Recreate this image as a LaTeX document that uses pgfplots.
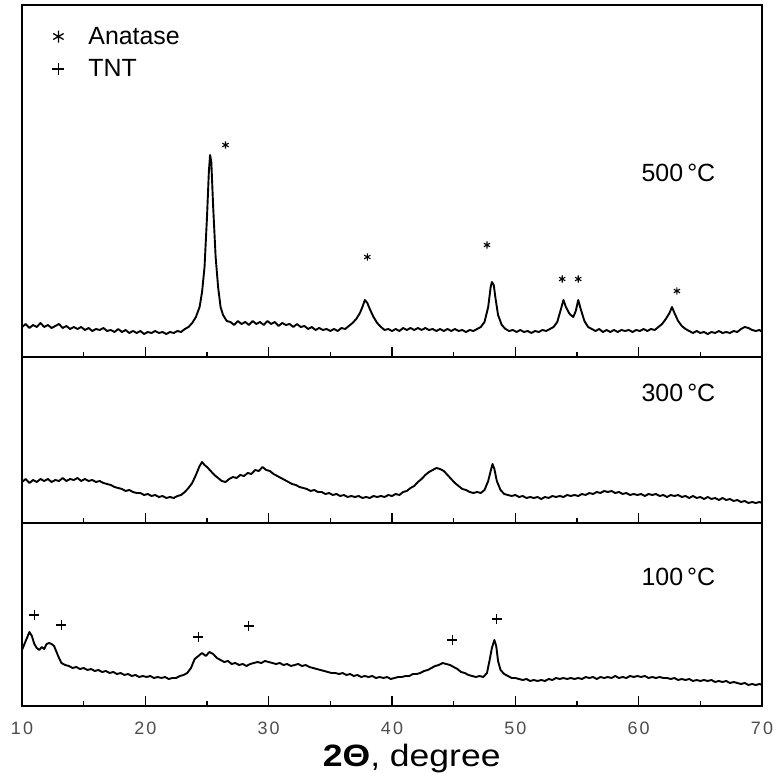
\documentclass[border=0pt]{standalone}
\usepackage{fontspec}
\setmainfont{Liberation Sans}
\newfontfamily\tickfont[LetterSpace=12]{Liberation Sans}
\usepackage{pgfplots}
\pgfplotsset{compat=1.18}
\pgfplotsset{
  xrdpanel/.style={
    scale only axis, width=740bp, anchor=south west,
    xmin=10, xmax=70, ymin=0,
    axis line style={line width=1.6bp},
    xtick={10,20,...,70}, minor xtick={15,25,...,65},
    tick align=inside, xtick pos=bottom, ytick=\empty,
    major tick length=10bp, minor tick length=5bp,
    every tick/.style={line width=1.4bp, black},
    clip=false,
    /pgf/number format/assume math mode=true,
  },
  trace/.style={black, line width=1.9bp, line join=round},
}
\begin{document}
\begin{tikzpicture}
\path[use as bounding box] (0,0) rectangle (773bp,774bp);
% ---------- top panel: 500 C
\begin{axis}[xrdpanel, at={(22bp,417bp)}, height=352bp, ymax=352,
  xticklabels=\empty,
  legend style={at={(axis cs:12.45,332)}, anchor=north west, draw=none, fill=none,
    font=\fontsize{25}{28}\selectfont, row sep=10bp, inner sep=0pt,
    nodes={inner sep=2bp},
    /tikz/every odd column/.append style={column sep=22bp}},
  legend image code/.code={\draw[#1, line width=1.3bp, mark size=6bp] plot coordinates {(0bp,0bp)};},
  legend cell align=left]
\addplot[only marks, mark=asterisk, mark size=3.6bp, line width=1.1bp] coordinates {
(26.5,212) (38.0,100) (47.7,112) (53.8,78) (55.1,78) (63.1,66)};
\addlegendentry{Anatase}
\addlegendimage{only marks, mark=+, mark size=5bp, line width=1.1bp}
\addlegendentry{TNT}
\addplot[trace] coordinates {
(10.0,30) (10.3,33) (10.6,29) (10.9,32) (11.2,30) (11.5,34) (11.8,30) (12.1,32) (12.4,29) (12.7,31)
(13.0,33) (13.3,29) (13.6,31) (13.9,28) (14.2,30) (14.5,28) (14.8,30) (15.1,27) (15.4,29) (15.7,26)
(16.0,28) (16.3,27) (16.6,29) (16.9,26) (17.2,27) (17.5,25) (17.8,28) (18.1,25) (18.4,27) (18.7,24)
(19.0,26) (19.3,24) (19.6,26) (19.9,23) (20.2,25) (20.5,24) (20.8,26) (21.1,24) (21.4,25) (21.7,23)
(22.0,25) (22.3,24) (22.6,26) (22.9,25) (23.2,28) (23.5,30) (23.8,34) (24.1,40) (24.4,50) (24.6,65)
(24.8,90) (25.0,140) (25.15,185) (25.25,202) (25.35,195) (25.5,150) (25.7,100) (25.9,70) (26.1,50)
(26.3,42) (26.6,36) (26.9,35) (27.2,32) (27.5,36) (27.8,33) (28.1,35) (28.4,32) (28.7,36) (29.0,33)
(29.3,35) (29.6,32) (29.9,36) (30.2,33) (30.5,35) (30.8,31) (31.1,34) (31.4,32) (31.7,33) (32.0,30)
(32.3,33) (32.6,30) (32.9,31) (33.2,28) (33.5,30) (33.8,27) (34.1,29) (34.4,27) (34.7,28) (35.0,26)
(35.3,28) (35.6,26) (35.9,29) (36.2,28) (36.5,31) (36.8,34) (37.1,38) (37.4,44) (37.6,50) (37.8,57)
(38.0,54) (38.2,48) (38.5,40) (38.8,34) (39.1,30) (39.4,27) (39.7,28) (40.0,26) (40.3,28) (40.6,26)
(40.9,29) (41.2,27) (41.5,29) (41.8,27) (42.1,29) (42.4,27) (42.7,29) (43.0,27) (43.3,28) (43.6,26)
(43.9,28) (44.2,26) (44.5,28) (44.8,26) (45.1,28) (45.4,26) (45.7,27) (46.0,25) (46.3,27) (46.6,26)
(46.9,28) (47.2,30) (47.5,35) (47.8,50) (48.0,70) (48.1,75) (48.25,72) (48.4,58) (48.6,42) (48.9,32)
(49.2,28) (49.5,26) (49.8,27) (50.1,25) (50.4,27) (50.7,25) (51.0,26) (51.3,24) (51.6,26) (51.9,25)
(52.2,27) (52.5,26) (52.8,28) (53.1,30) (53.4,35) (53.7,48) (53.9,57) (54.1,50) (54.4,43) (54.7,40)
(54.9,46) (55.1,57) (55.3,48) (55.6,36) (55.9,30) (56.2,28) (56.5,26) (56.8,28) (57.1,25) (57.4,27)
(57.7,25) (58.0,27) (58.3,25) (58.6,27) (58.9,26) (59.2,27) (59.5,25) (59.8,27) (60.1,26) (60.4,28)
(60.7,26) (61.0,28) (61.3,27) (61.6,30) (61.9,33) (62.2,38) (62.5,44) (62.7,50) (62.9,44) (63.2,36)
(63.5,31) (63.8,28) (64.1,26) (64.4,24) (64.7,26) (65.0,24) (65.3,25) (65.6,23) (65.9,25) (66.2,24)
(66.5,26) (66.8,24) (67.1,25) (67.4,24) (67.7,26) (68.0,25) (68.3,28) (68.6,30) (68.9,29) (69.2,27)
(69.5,26) (69.8,27) (70.0,25)};
\node[anchor=west, font=\fontsize{25}{28}\selectfont] at (axis cs:59.95,184) {500\,°C};
\end{axis}
% ---------- middle panel: 300 C
\begin{axis}[xrdpanel, at={(22bp,251bp)}, height=166bp, ymax=166, xticklabels=\empty]
\addplot[trace] coordinates {
(10.0,41) (10.3,44) (10.6,40) (10.9,43) (11.2,41) (11.5,44) (11.8,42) (12.1,44) (12.4,41) (12.7,43)
(13.0,42) (13.3,45) (13.6,42) (13.9,44) (14.2,43) (14.5,45) (14.8,42) (15.1,44) (15.4,42) (15.7,43)
(16.0,41) (16.3,42) (16.6,40) (16.9,39) (17.2,38) (17.5,36) (17.8,35) (18.1,34) (18.4,32) (18.7,33)
(19.0,31) (19.3,30) (19.6,30) (19.9,28) (20.2,29) (20.5,27) (20.8,28) (21.1,26) (21.4,27) (21.7,25)
(22.0,26) (22.3,25) (22.6,27) (22.9,28) (23.2,31) (23.5,35) (23.8,40) (24.1,48) (24.4,57) (24.6,61)
(24.8,58) (25.0,56) (25.3,52) (25.6,48) (25.9,45) (26.2,42) (26.5,41) (26.8,44) (27.1,46) (27.4,45)
(27.7,48) (28.0,47) (28.3,50) (28.6,49) (28.9,53) (29.2,52) (29.5,56) (29.8,53) (30.1,52) (30.4,49)
(30.7,47) (31.0,45) (31.3,43) (31.6,41) (31.9,39) (32.2,38) (32.5,36) (32.8,35) (33.1,34) (33.4,32)
(33.7,33) (34.0,31) (34.3,31) (34.6,29) (34.9,30) (35.2,28) (35.5,29) (35.8,27) (36.1,28) (36.4,26)
(36.7,27) (37.0,26) (37.3,27) (37.6,25) (37.9,26) (38.2,25) (38.5,27) (38.8,26) (39.1,27) (39.4,26)
(39.7,28) (40.0,27) (40.3,29) (40.6,28) (40.9,31) (41.2,32) (41.5,35) (41.8,37) (42.1,41) (42.4,44)
(42.7,48) (43.0,51) (43.3,53) (43.6,55) (43.9,54) (44.2,52) (44.5,48) (44.8,44) (45.1,40) (45.4,37)
(45.7,34) (46.0,33) (46.3,31) (46.6,30) (46.9,31) (47.2,30) (47.5,33) (47.8,42) (48.0,52) (48.15,59)
(48.3,54) (48.5,42) (48.8,33) (49.1,29) (49.4,28) (49.7,27) (50.0,28) (50.3,26) (50.6,27) (50.9,25)
(51.2,26) (51.5,25) (51.8,26) (52.1,24) (52.4,26) (52.7,25) (53.0,27) (53.3,26) (53.6,27) (53.9,26)
(54.2,28) (54.5,27) (54.8,28) (55.1,27) (55.4,29) (55.7,28) (56.0,30) (56.3,29) (56.6,31) (56.9,30)
(57.2,32) (57.5,31) (57.8,32) (58.1,30) (58.4,31) (58.7,29) (59.0,30) (59.3,28) (59.6,29) (59.9,28)
(60.2,29) (60.5,27) (60.8,29) (61.1,28) (61.4,29) (61.7,27) (62.0,28) (62.3,26) (62.6,28) (62.9,27)
(63.2,28) (63.5,26) (63.8,27) (64.1,25) (64.4,27) (64.7,25) (65.0,26) (65.3,24) (65.6,26) (65.9,24)
(66.2,25) (66.5,23) (66.8,25) (67.1,23) (67.4,24) (67.7,22) (68.0,23) (68.3,21) (68.6,22) (68.9,20)
(69.2,21) (69.5,20) (69.8,21) (70.0,20)};
\node[anchor=west, font=\fontsize{25}{28}\selectfont] at (axis cs:59.95,130) {300\,°C};
\end{axis}
% ---------- bottom panel: 100 C
\begin{axis}[xrdpanel, at={(22bp,68bp)}, height=183bp, ymax=183,
  xticklabel style={font=\tickfont\fontsize{18}{20}\selectfont, text=black!70, yshift=-12bp}]
\addplot[only marks, mark=+, mark size=5bp, line width=1.1bp] coordinates {
(11.0,91) (13.2,81) (24.3,69) (28.4,80) (44.9,66) (48.5,87)};
\addplot[trace] coordinates {
(10.0,56) (10.2,62) (10.4,68) (10.6,74) (10.8,70) (11.0,62) (11.2,58) (11.4,56) (11.6,59) (11.8,57)
(12.0,62) (12.2,63) (12.4,62) (12.6,60) (12.8,54) (13.0,48) (13.2,43) (13.5,41) (13.8,40) (14.1,38)
(14.4,39) (14.7,37) (15.0,38) (15.3,36) (15.6,37) (15.9,35) (16.2,36) (16.5,34) (16.8,35) (17.1,33)
(17.4,34) (17.7,32) (18.0,33) (18.3,31) (18.6,32) (18.9,30) (19.2,31) (19.5,29) (19.8,30) (20.1,29)
(20.4,30) (20.7,28) (21.0,29) (21.3,28) (21.6,29) (21.9,27) (22.2,28) (22.5,28) (22.8,30) (23.1,31)
(23.4,33) (23.7,38) (24.0,47) (24.3,50) (24.6,53) (24.9,50) (25.2,54) (25.5,52) (25.8,48) (26.1,46)
(26.4,44) (26.7,45) (27.0,42) (27.3,43) (27.6,41) (27.9,42) (28.2,40) (28.5,42) (28.8,43) (29.1,44)
(29.4,43) (29.7,45) (30.0,44) (30.3,43) (30.6,42) (30.9,43) (31.2,41) (31.5,42) (31.8,40) (32.1,41)
(32.4,42) (32.7,40) (33.0,41) (33.3,39) (33.6,38) (33.9,37) (34.2,36) (34.5,35) (34.8,34) (35.1,33)
(35.4,33) (35.7,32) (36.0,33) (36.3,31) (36.6,32) (36.9,30) (37.2,31) (37.5,29) (37.8,30) (38.1,29)
(38.4,30) (38.7,28) (39.0,29) (39.3,28) (39.6,29) (39.9,27) (40.2,28) (40.5,29) (40.8,29) (41.1,30)
(41.4,30) (41.7,32) (42.0,32) (42.3,33) (42.6,35) (42.9,36) (43.2,38) (43.5,40) (43.8,41) (44.1,43)
(44.4,42) (44.7,41) (45.0,39) (45.3,37) (45.6,34) (45.9,33) (46.2,31) (46.5,30) (46.8,29) (47.1,30)
(47.4,29) (47.7,33) (47.9,45) (48.1,58) (48.3,66) (48.45,60) (48.6,45) (48.8,36) (49.1,32) (49.4,30)
(49.7,28) (50.0,28) (50.3,27) (50.6,26) (50.9,27) (51.2,25) (51.5,26) (51.8,25) (52.1,26) (52.4,25)
(52.7,27) (53.0,26) (53.3,28) (53.6,27) (53.9,28) (54.2,27) (54.5,28) (54.8,27) (55.1,28) (55.4,27)
(55.7,29) (56.0,28) (56.3,29) (56.6,27) (56.9,29) (57.2,28) (57.5,29) (57.8,28) (58.1,30) (58.4,28)
(58.7,29) (59.0,28) (59.3,30) (59.6,29) (59.9,30) (60.2,29) (60.5,30) (60.8,28) (61.1,29) (61.4,28)
(61.7,29) (62.0,28) (62.3,28) (62.6,27) (62.9,28) (63.2,26) (63.5,27) (63.8,26) (64.1,27) (64.4,25)
(64.7,26) (65.0,25) (65.3,26) (65.6,25) (65.9,26) (66.2,24) (66.5,25) (66.8,24) (67.1,25) (67.4,23)
(67.7,24) (68.0,23) (68.3,22) (68.6,23) (68.9,21) (69.2,22) (69.5,21) (69.8,22) (70.0,21)};
\node[anchor=west, font=\fontsize{25}{28}\selectfont] at (axis cs:59.95,129) {100\,°C};
\node[font=\fontsize{31}{34}\selectfont, xscale=1.15] at (axis cs:41.6,-53) {\textbf{2Θ}, degree};
\end{axis}
\end{tikzpicture}
\end{document}
